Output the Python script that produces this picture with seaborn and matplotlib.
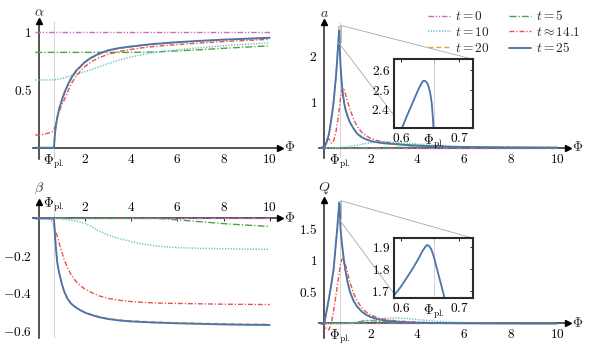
import matplotlib
matplotlib.use("Agg")
import matplotlib.pyplot as plt
import seaborn as sns
import pandas as pd
from matplotlib.patches import Rectangle, ConnectionPatch

# ---------------- data ----------------
PHI_PL = 0.657
LABELS = [r"$t=0$", r"$t=5$", r"$t=10$", r"$t\approx14.1$", r"$t=20$", r"$t=25$"]
COLORS = ["#c96bbf", "#47a447", "#67c5b8", "#e85050", "#f29a3a", "#4b74aa"]

PHI = [-0.15, 0, 0.1, 0.2, 0.3, 0.4, 0.5, 0.55, 0.6, 0.64, 0.657, 0.7, 0.75, 0.8, 0.85,
       0.9, 1.0, 1.1, 1.25, 1.4, 1.6, 1.8, 2.0, 2.3, 2.6, 3.0, 3.5, 4.0, 4.5, 5.0, 5.5,
       6.0, 7.0, 8.0, 9.0, 10.0]

ALPHA_T0 = [1.0, 1.0, 1.0, 1.0, 1.0, 1.0, 1.0, 1.0, 1.0, 1.0, 1.0, 1.0, 1.0, 1.0, 1.0,
            1.0, 1.0, 1.0, 1.0, 1.0, 1.0, 1.0, 1.0, 1.0, 1.0, 1.0, 1.0, 1.0, 1.0, 1.0,
            1.0, 1.0, 1.0, 1.0, 1.0, 1.0]
ALPHA_T5 = [0.822, 0.822, 0.822, 0.822, 0.822, 0.822, 0.822, 0.822, 0.822, 0.822, 0.822,
            0.822, 0.822, 0.822, 0.822, 0.822, 0.822, 0.822, 0.822, 0.822, 0.822, 0.822,
            0.822, 0.822, 0.822, 0.822, 0.822, 0.822, 0.823, 0.826, 0.83, 0.835, 0.845,
            0.857, 0.868, 0.879]
ALPHA_T10 = [0.584, 0.584, 0.584, 0.584, 0.584, 0.584, 0.584, 0.584, 0.584, 0.585, 0.585,
             0.586, 0.587, 0.588, 0.59, 0.592, 0.597, 0.603, 0.612, 0.622, 0.632, 0.643,
             0.655, 0.675, 0.697, 0.725, 0.757, 0.783, 0.803, 0.82, 0.833, 0.844, 0.863,
             0.879, 0.893, 0.905]
ALPHA_T14 = [0.11, 0.11, 0.112, 0.115, 0.12, 0.125, 0.13, 0.135, 0.14, 0.15, 0.155, 0.18,
             0.22, 0.26, 0.29, 0.32, 0.37, 0.41, 0.48, 0.55, 0.61, 0.66, 0.70, 0.745, 0.775,
             0.805, 0.83, 0.848, 0.862, 0.873, 0.882, 0.89, 0.903, 0.915, 0.925, 0.935]
ALPHA_T20 = [0, 0, 0, 0, 0, 0, 0, 0, 0, 0, 0, 0.11, 0.19, 0.25, 0.3, 0.34, 0.4, 0.46, 0.53,
             0.59, 0.65, 0.695, 0.735, 0.775, 0.805, 0.835, 0.856, 0.87, 0.882, 0.892, 0.9,
             0.907, 0.919, 0.929, 0.937, 0.945]
ALPHA_T25 = [0, 0, 0, 0, 0, 0, 0, 0, 0, 0, 0, 0.12, 0.2, 0.26, 0.31, 0.35, 0.41, 0.47, 0.54,
             0.6, 0.66, 0.70, 0.74, 0.78, 0.81, 0.84, 0.86, 0.873, 0.885, 0.895, 0.903, 0.91,
             0.922, 0.932, 0.94, 0.948]

A_T0 = [0, 0, 0, 0, 0, 0, 0, 0, 0, 0, 0, 0, 0, 0, 0, 0, 0, 0, 0, 0, 0, 0, 0, 0, 0, 0, 0, 0,
        0, 0, 0, 0, 0, 0, 0, 0]
A_T5 = [0, 0, 0, 0, 0, 0, 0, 0, 0, 0, 0, 0, 0, 0, 0, 0, 0, 0, 0, 0, 0, 0, 0, 0.001, 0.002,
        0.005, 0.01, 0.015, 0.018, 0.018, 0.015, 0.012, 0.006, 0.003, 0.001, 0]
A_T10 = [0, 0, 0, 0, 0, 0, 0, 0.001, 0.002, 0.003, 0.004, 0.005, 0.007, 0.01, 0.012, 0.015,
         0.02, 0.028, 0.04, 0.055, 0.075, 0.095, 0.11, 0.125, 0.13, 0.12, 0.1, 0.08, 0.06,
         0.045, 0.033, 0.024, 0.012, 0.006, 0.003, 0.001]
A_T14 = [0, 0.03, 0.17, 0.19, 0.1, 0.15, 0.35, 0.5, 0.68, 0.85, 0.92, 1.1, 1.24, 1.3, 1.27,
         1.18, 1.0, 0.84, 0.63, 0.47, 0.34, 0.26, 0.2, 0.15, 0.12, 0.09, 0.065, 0.048,
         0.036, 0.027, 0.02, 0.015, 0.009, 0.006, 0.004, 0.003]
A_T20 = [0, 0, 0.12, 0.3, 0.62, 1.0, 1.55, 1.9, 2.29, 2.545, 2.2, 1.75, 1.4, 1.15, 0.98,
         0.85, 0.68, 0.55, 0.42, 0.31, 0.23, 0.18, 0.145, 0.115, 0.095, 0.08, 0.06, 0.045,
         0.035, 0.027, 0.02, 0.015, 0.009, 0.006, 0.004, 0.003]
A_T25 = [0, 0, 0.12, 0.3, 0.62, 1.0, 1.55, 1.9, 2.29, 2.545, 2.2, 1.75, 1.4, 1.15, 0.98,
         0.85, 0.68, 0.55, 0.42, 0.31, 0.23, 0.18, 0.145, 0.115, 0.095, 0.08, 0.06, 0.045,
         0.035, 0.027, 0.02, 0.015, 0.009, 0.006, 0.004, 0.003]

BETA_T0 = [0, 0, 0, 0, 0, 0, 0, 0, 0, 0, 0, 0, 0, 0, 0, 0, 0, 0, 0, 0, 0, 0, 0, 0, 0, 0, 0,
           0, 0, 0, 0, 0, 0, 0, 0, 0]
BETA_T5 = [0, 0, 0, 0, 0, 0, 0, 0, 0, 0, 0, 0, 0, 0, 0, 0, 0, 0, 0, 0, 0, 0, 0, 0, 0, 0, 0,
           0, 0, 0, -0.003, -0.008, -0.018, -0.028, -0.036, -0.043]
BETA_T10 = [0, 0, 0, 0, 0, 0, 0, 0, 0, 0, 0, 0, 0, 0, 0, 0, -0.002, -0.004, -0.007, -0.01,
            -0.014, -0.02, -0.027, -0.045, -0.067, -0.089, -0.108, -0.124, -0.137, -0.146,
            -0.152, -0.156, -0.16, -0.162, -0.164, -0.165]
BETA_T14 = [0, 0, 0, 0, 0, 0, -0.005, -0.012, -0.022, -0.032, -0.037, -0.055, -0.075,
            -0.095, -0.115, -0.14, -0.18, -0.22, -0.265, -0.3, -0.335, -0.36, -0.377,
            -0.397, -0.413, -0.427, -0.437, -0.444, -0.448, -0.451, -0.453, -0.454, -0.456,
            -0.458, -0.459, -0.46]
BETA_T20 = [0, 0, 0, 0, 0, 0, 0, 0, 0, 0, 0, -0.09, -0.17, -0.235, -0.27, -0.3, -0.35,
            -0.39, -0.43, -0.455, -0.475, -0.49, -0.502, -0.514, -0.524, -0.534, -0.542,
            -0.547, -0.55, -0.553, -0.555, -0.557, -0.56, -0.562, -0.564, -0.565]
BETA_T25 = [0, 0, 0, 0, 0, 0, 0, 0, 0, 0, 0, -0.09, -0.17, -0.235, -0.27, -0.3, -0.35,
            -0.39, -0.43, -0.455, -0.475, -0.49, -0.503, -0.516, -0.527, -0.537, -0.545,
            -0.55, -0.553, -0.556, -0.558, -0.56, -0.563, -0.566, -0.568, -0.569]

Q_T0 = [0, 0, 0, 0, 0, 0, 0, 0, 0, 0, 0, 0, 0, 0, 0, 0, 0, 0, 0, 0, 0, 0, 0, 0, 0, 0, 0, 0,
        0, 0, 0, 0, 0, 0, 0, 0]
Q_T5 = [0, 0, 0, 0, 0, 0, 0, 0, 0, 0, 0, 0, 0, 0, 0, 0, 0, 0.004, 0.01, 0.02, 0.035, 0.045,
        0.045, 0.035, 0.025, 0.015, 0.01, 0.008, 0.008, 0.007, 0.005, 0.004, 0.002, 0.001,
        0, 0]
Q_T10 = [0, 0, 0, 0, 0, 0, 0, 0, 0, 0, 0, 0, 0, 0, 0.001, 0.002, 0.005, 0.008, 0.012, 0.018,
         0.027, 0.037, 0.048, 0.065, 0.08, 0.088, 0.08, 0.062, 0.045, 0.03, 0.02, 0.013,
         0.005, 0.002, 0.001, 0]
Q_T14 = [0, -0.02, -0.09, -0.1, 0.0, 0.2, 0.45, 0.57, 0.7, 0.8, 0.84, 0.95, 1.01, 1.02, 1.0,
         0.94, 0.8, 0.65, 0.48, 0.36, 0.25, 0.18, 0.13, 0.09, 0.065, 0.045, 0.03, 0.02,
         0.013, 0.009, 0.006, 0.004, 0.002, 0.001, 0, 0]
Q_T20 = [0, 0, 0.2, 0.4, 0.62, 0.86, 1.28, 1.48, 1.72, 1.9, 1.86, 1.47, 1.28, 1.12, 0.97,
         0.85, 0.65, 0.5, 0.36, 0.27, 0.19, 0.135, 0.1, 0.065, 0.045, 0.03, 0.018, 0.012,
         0.008, 0.005, 0.003, 0.002, 0.001, 0, 0, 0]
Q_T25 = [0, 0, 0.2, 0.4, 0.62, 0.86, 1.28, 1.48, 1.72, 1.9, 1.86, 1.47, 1.28, 1.12, 0.97,
         0.85, 0.65, 0.5, 0.36, 0.27, 0.19, 0.135, 0.1, 0.065, 0.045, 0.03, 0.018, 0.012,
         0.008, 0.005, 0.003, 0.002, 0.001, 0, 0, 0]

INSET_A_PHI = [0.59, 0.602, 0.61, 0.62, 0.63, 0.635, 0.638, 0.642, 0.646, 0.65, 0.653,
               0.655, 0.656, 0.66]
INSET_A_T25 = [2.22, 2.30, 2.36, 2.43, 2.50, 2.53, 2.545, 2.545, 2.53, 2.49, 2.43, 2.35,
               2.30, 2.10]
INSET_Q_PHI = [0.585, 0.6, 0.61, 0.62, 0.63, 0.637, 0.642, 0.645, 0.648, 0.652, 0.656, 0.66,
               0.665, 0.67, 0.675, 0.68]
INSET_Q_T25 = [1.67, 1.72, 1.76, 1.80, 1.845, 1.88, 1.90, 1.908, 1.905, 1.89, 1.86, 1.82,
               1.77, 1.72, 1.67, 1.62]

X_TICKS = [PHI_PL, 2, 4, 6, 8, 10]
X_TICK_LABELS = [r"$\Phi_{\mathrm{pl.}}$", "$2$", "$4$", "$6$", "$8$", "$10$"]

# ---------------- style ----------------
sns.set_style("white")
FS = 9.6
plt.rcParams.update({
    "font.family": ["DejaVu Serif"],
    "mathtext.fontset": "cm",
    "font.size": FS,
    "lines.scale_dashes": False,
})
DASHES = [(4, 1.3, 0.9, 1.3, 0.9, 1.3), (5, 1.5, 0.9, 1.5), (0.9, 1.1),
          (3.5, 1.4, 0.9, 1.4), (3.5, 2.2), None]
LWS = [1.0, 1.0, 1.1, 1.0, 1.0, 1.35]

W, H = 591, 347
fig = plt.figure(figsize=(W / 100, H / 100), dpi=100)


def px_rect(l, r, t, b):
    return [l / W, (H - b) / H, (r - l) / W, (b - t) / H]


def draw_series(ax, x, ys):
    df = pd.DataFrame({"phi": x})
    for i, y in enumerate(ys):
        df["v"] = y
        sns.lineplot(data=df, x="phi", y="v", ax=ax, color=COLORS[i], lw=LWS[i],
                     legend=False, label=LABELS[i], zorder=3 + i)
        line = ax.lines[-1]
        if DASHES[i] is not None:
            line.set_dashes(DASHES[i])
    ax.set_xlabel("")
    ax.set_ylabel("")


def style_axes(ax, xlim, ylim, yticks, ylabels, name, name_y, top_labels=False):
    ax.set_xlim(*xlim)
    ax.set_ylim(*ylim)
    ax.axvline(PHI_PL, color="#cccccc", lw=0.6, zorder=1)
    ax.spines["right"].set_visible(False)
    ax.spines["left"].set_position(("data", 0))
    ax.spines["left"].set_linewidth(1.1)
    if top_labels:
        ax.spines["bottom"].set_visible(False)
        ax.spines["top"].set_position(("data", 0))
        ax.spines["top"].set_linewidth(1.1)
        ax.xaxis.set_ticks_position("top")
    else:
        ax.spines["top"].set_visible(False)
        ax.spines["bottom"].set_position(("data", 0))
        ax.spines["bottom"].set_linewidth(1.1)
    ax.set_xticks(X_TICKS)
    ax.set_xticklabels(X_TICK_LABELS)
    ax.set_yticks(yticks)
    ax.set_yticklabels(ylabels)
    ax.tick_params(axis="both", direction="in", length=2.5, width=0.6,
                   labelsize=FS, colors="black")
    ax.tick_params(axis="y", pad=5)
    ax.tick_params(axis="x", pad=3.5)
    ax.plot(1, 0, marker=">", ms=4.5, color="k", transform=ax.get_yaxis_transform(),
            clip_on=False, zorder=20)
    ax.plot(0, 1, marker="^", ms=4.5, color="k", transform=ax.get_xaxis_transform(),
            clip_on=False, zorder=20)
    ax.text(1.04, 0, r"$\Phi$", transform=ax.get_yaxis_transform(), ha="center",
            va="center", fontsize=FS + 0.5)
    ax.text(0, name_y, name, transform=ax.get_xaxis_transform(), ha="center",
            va="center", fontsize=FS + 0.5)
    ax.patch.set_alpha(0)


def make_inset(rect, x, y, xlim, ylim, yticks, ylabels):
    ins = fig.add_axes(rect)
    ins.set_zorder(5)
    ins.set_facecolor("white")
    df = pd.DataFrame({"phi": x, "v": y})
    sns.lineplot(data=df, x="phi", y="v", ax=ins, color=COLORS[5], lw=1.3, legend=False)
    ins.set_xlabel("")
    ins.set_ylabel("")
    ins.axvline(PHI_PL, color="#cccccc", lw=0.6, zorder=1)
    ins.set_xlim(*xlim)
    ins.set_ylim(*ylim)
    ins.set_xticks([0.6, PHI_PL, 0.7])
    ins.set_xticklabels(["$0.6$", r"$\Phi_{\mathrm{pl.}}$", "$0.7$"])
    ins.set_yticks(yticks)
    ins.set_yticklabels(ylabels)
    ins.tick_params(axis="both", direction="in", length=2.5, width=0.6, pad=3,
                    labelsize=FS, top=True, right=True, colors="black")
    for s in ins.spines.values():
        s.set_linewidth(1.5)
        s.set_color("#2a2a2a")
    return ins


def zoom_marks(ax, ins, xlim, ylim, low_b):
    ax.add_patch(Rectangle((xlim[0], ylim[0]), xlim[1] - xlim[0], ylim[1] - ylim[0],
                           facecolor="#d0d0d0", edgecolor="#a0a0a0", lw=0.6,
                           alpha=0.8, zorder=2))
    for xa, xb in [((xlim[1], ylim[1]), (1, 1)), ((xlim[0], ylim[0]), low_b)]:
        cp = ConnectionPatch(xyA=xa, coordsA=ax.transData, xyB=xb,
                             coordsB=ins.transAxes, color="#a8a8a8", lw=0.6)
        cp.set_zorder(1)
        fig.add_artist(cp)


# ---------------- panels ----------------
ax1 = fig.add_axes(px_rect(33, 280.1, 21.3, 159.3))
draw_series(ax1, PHI, [ALPHA_T0, ALPHA_T5, ALPHA_T10, ALPHA_T14, ALPHA_T20, ALPHA_T25])
style_axes(ax1, (-0.25, 10.45), (-0.1, 1.09), [0.5, 1], ["$0.5$", "$1$"],
           r"$\alpha$", 1.067)

ax2 = fig.add_axes(px_rect(318.5, 567.8, 21.7, 158.3))
draw_series(ax2, PHI, [A_T0, A_T5, A_T10, A_T14, A_T20, A_T25])
style_axes(ax2, (-0.25, 10.45), (-0.23, 2.74), [1, 2], ["$1$", "$2$"], r"$a$", 1.066)

ax3 = fig.add_axes(px_rect(33, 280.1, 201.7, 338.3))
draw_series(ax3, PHI, [BETA_T0, BETA_T5, BETA_T10, BETA_T14, BETA_T20, BETA_T25])
style_axes(ax3, (-0.25, 10.45), (-0.64, 0.089), [-0.6, -0.4, -0.2],
           ["$-0.6$", "$-0.4$", "$-0.2$"], r"$\beta$", 1.098, top_labels=True)

ax4 = fig.add_axes(px_rect(318.5, 567.8, 200, 338))
draw_series(ax4, PHI, [Q_T0, Q_T5, Q_T10, Q_T14, Q_T20, Q_T25])
style_axes(ax4, (-0.25, 10.45), (-0.23, 1.95), [0.5, 1, 1.5],
           ["$0.5$", "$1$", "$1.5$"], r"$Q$", 1.085)

A_XL, A_YL = (0.589, 0.724), (2.30, 2.657)
ins_a = make_inset(px_rect(394.3, 473.3, 59.3, 128.3), INSET_A_PHI, INSET_A_T25,
                   A_XL, A_YL, [2.4, 2.5, 2.6], ["$2.4$", "$2.5$", "$2.6$"])
zoom_marks(ax2, ins_a, A_XL, A_YL, (0.12, 0))

Q_XL, Q_YL = (0.589, 0.724), (1.669, 1.938)
ins_q = make_inset(px_rect(394.3, 473.3, 238.3, 298.3), INSET_Q_PHI, INSET_Q_T25,
                   Q_XL, Q_YL, [1.7, 1.8, 1.9], ["$1.7$", "$1.8$", "$1.9$"])
zoom_marks(ax4, ins_q, Q_XL, Q_YL, (0.04, 0))

# legend (column-wise order as in reference)
handles = ax2.lines[:6]
order = [0, 2, 4, 1, 3, 5]
fig.legend([handles[i] for i in order], [LABELS[i] for i in order], ncol=2,
           loc="upper right", bbox_to_anchor=(589 / W, 1 - 0.5 / H), frameon=False,
           fontsize=FS, handlelength=1.7, handletextpad=0.35, columnspacing=1.4,
           labelspacing=0.2, borderpad=0.15)

fig.savefig("out.png", dpi=100)
